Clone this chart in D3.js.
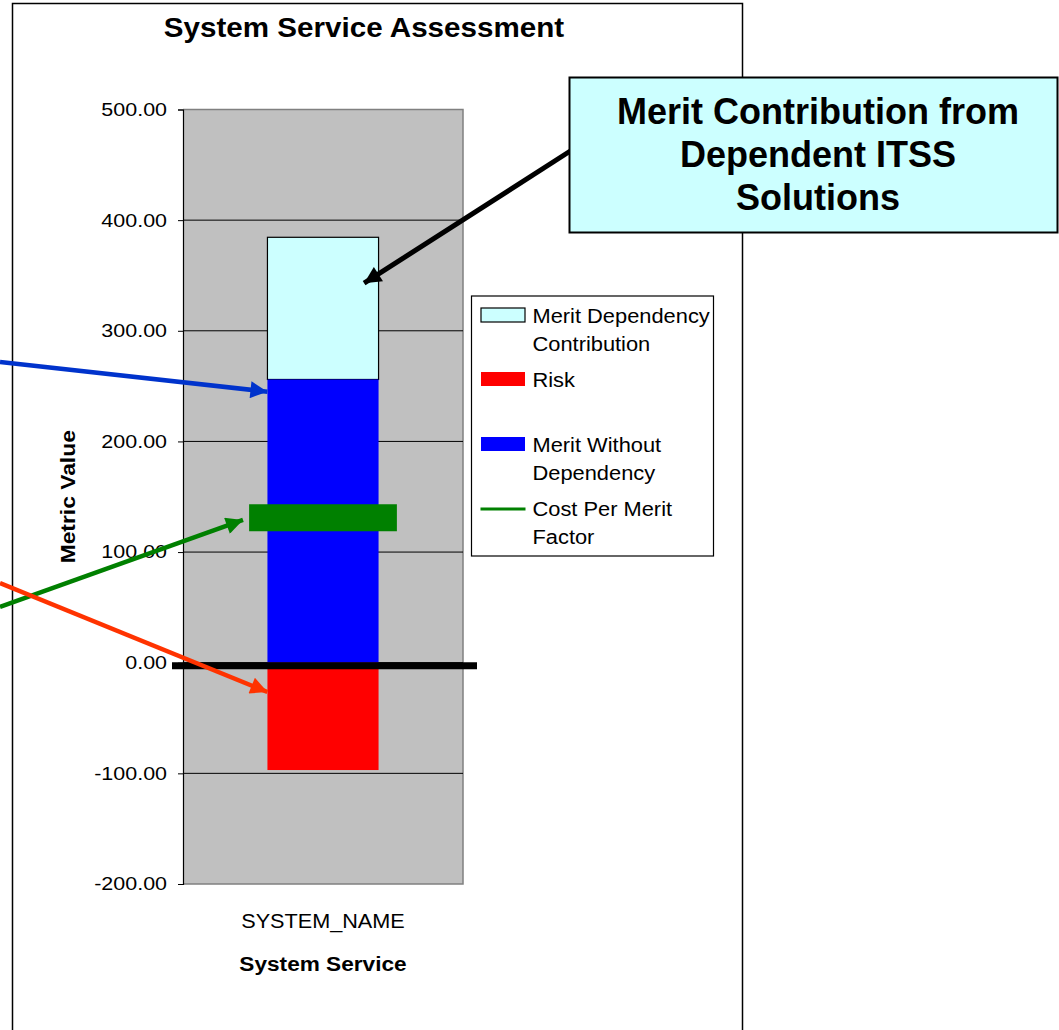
<!DOCTYPE html>
<html>
<head>
<meta charset="utf-8">
<script src="https://cdn.jsdelivr.net/npm/d3@7"></script>
<style>
  body { margin: 0; background: #fff; }
  svg { display: block; font-family: "Liberation Sans", Arial, sans-serif; }
</style>
</head>
<body>
<div id="chart"></div>
<script>
// Chart data
const categories = ["SYSTEM_NAME"];
const meritWithoutDependency = [256];
const meritDependencyContribution = [128.5];
const risk = [-97];
const costPerMeritFactor = [131];
const yTicks = [-200, -100, 0, 100, 200, 300, 400, 500];
const legendLabels = [
  ["Merit Dependency", "Contribution"],
  ["Risk"],
  ["Merit Without", "Dependency"],
  ["Cost Per Merit", "Factor"]
];
const calloutLines = ["Merit Contribution from", "Dependent ITSS", "Solutions"];

const W = 1059, H = 1030;
const plot = { left: 183, right: 463, top: 109.5, bottom: 884 };
const FONT = "Liberation Sans, Arial, sans-serif";

// the source chart's text is a bit wider than Arial at the same height
function stretch(sel, k) {
  sel.each(function () {
    const w = this.getComputedTextLength();
    d3.select(this).attr("textLength", w * k).attr("lengthAdjust", "spacingAndGlyphs");
  });
}

const svg = d3.select("#chart")
  .append("svg")
  .attr("width", W)
  .attr("height", H);

// Outer chart frame
svg.append("rect")
  .attr("x", 12.5).attr("y", 3.5)
  .attr("width", 730).attr("height", H + 10)
  .attr("fill", "#fff").attr("stroke", "#000").attr("stroke-width", 1.5);

svg.append("text")
  .attr("x", 364).attr("y", 36.5)
  .attr("text-anchor", "middle")
  .attr("font-size", 28).attr("font-weight", "bold")
  .text("System Service Assessment")
  .call(stretch, 1.057);

const x = d3.scaleBand()
  .domain(categories)
  .range([plot.left, plot.right])
  .paddingInner(0)
  .paddingOuter(0.76);

const y = d3.scaleLinear()
  .domain([-200, 500])
  .range([plot.bottom, plot.top]);

// Plot area background
svg.append("rect")
  .attr("x", plot.left).attr("y", plot.top)
  .attr("width", plot.right - plot.left).attr("height", plot.bottom - plot.top)
  .attr("fill", "#c0c0c0");
svg.append("path")
  .attr("d", `M${plot.left},${plot.top}H${plot.right}V${plot.bottom}H${plot.left}`)
  .attr("fill", "none").attr("stroke", "#808080").attr("stroke-width", 1.5);

// Gridlines
svg.append("g")
  .selectAll("line")
  .data(yTicks.filter(d => d !== -200 && d !== 500))
  .join("line")
  .attr("x1", plot.left).attr("x2", plot.right)
  .attr("y1", d => y(d)).attr("y2", d => y(d))
  .attr("stroke", "#000").attr("stroke-width", 1);

// Y axis (plain hyphen for negatives, as in the source)
const yAxis = svg.append("g")
  .attr("transform", `translate(${plot.left},0)`)
  .call(d3.axisLeft(y).tickValues(yTicks).tickFormat(d => d.toFixed(2)).tickSize(5).tickPadding(11));
yAxis.select(".domain").attr("stroke", "#000").attr("stroke-width", 1.2);
yAxis.selectAll("line").attr("stroke", "#000");
yAxis.selectAll("text")
  .attr("font-size", 18.5).attr("fill", "#000").attr("font-family", FONT)
  .call(stretch, 1.16);

svg.append("text")
  .attr("transform", `translate(75,${y(150)}) rotate(-90)`)
  .attr("text-anchor", "middle")
  .attr("font-size", 19.5).attr("font-weight", "bold")
  .text("Metric Value")
  .call(stretch, 1.17);

// X axis labels
svg.append("g")
  .selectAll("text")
  .data(categories)
  .join("text")
  .attr("x", d => x(d) + x.bandwidth() / 2)
  .attr("y", plot.bottom + 44)
  .attr("text-anchor", "middle")
  .attr("font-size", 19.5)
  .text(d => d)
  .call(stretch, 1.11);

svg.append("text")
  .attr("x", (plot.left + plot.right) / 2)
  .attr("y", plot.bottom + 87)
  .attr("text-anchor", "middle")
  .attr("font-size", 19.5).attr("font-weight", "bold")
  .text("System Service")
  .call(stretch, 1.16);

// Stacked bars
const rows = categories.map((c, i) => ({
  cat: c,
  merit: meritWithoutDependency[i],
  dep: meritDependencyContribution[i],
  risk: risk[i],
  cost: costPerMeritFactor[i]
}));

const bars = svg.append("g");
bars.selectAll(".dep")
  .data(rows).join("rect")
  .attr("x", d => x(d.cat))
  .attr("width", x.bandwidth())
  .attr("y", d => y(d.merit + d.dep))
  .attr("height", d => y(d.merit) - y(d.merit + d.dep))
  .attr("fill", "#ccffff").attr("stroke", "#000").attr("stroke-width", 1.2);
bars.selectAll(".merit")
  .data(rows).join("rect")
  .attr("x", d => x(d.cat))
  .attr("width", x.bandwidth())
  .attr("y", d => y(d.merit))
  .attr("height", d => y(0) - y(d.merit))
  .attr("fill", "#0000ff");
bars.selectAll(".risk")
  .data(rows).join("rect")
  .attr("x", d => x(d.cat))
  .attr("width", x.bandwidth())
  .attr("y", y(0))
  .attr("height", d => y(d.risk) - y(0))
  .attr("fill", "#ff0000");

// Cost per merit marker (thick green dash)
bars.selectAll(".cost")
  .data(rows).join("line")
  .attr("x1", d => x(d.cat) - x.bandwidth() * 0.165)
  .attr("x2", d => x(d.cat) + x.bandwidth() * 1.165)
  .attr("y1", d => y(d.cost)).attr("y2", d => y(d.cost))
  .attr("stroke", "#008000").attr("stroke-width", 27);

// Heavy zero line
svg.append("line")
  .attr("x1", plot.left - 11).attr("x2", plot.right + 14)
  .attr("y1", y(0) + 3).attr("y2", y(0) + 3)
  .attr("stroke", "#000").attr("stroke-width", 7);

// Legend
const legend = svg.append("g").attr("transform", "translate(471.5,296)");
legend.append("rect")
  .attr("width", 242).attr("height", 260)
  .attr("fill", "#fff").attr("stroke", "#000").attr("stroke-width", 1.2);
const legendRowY = [27, 91, 156, 220];
const legendFill = ["#ccffff", "#ff0000", "#0000ff", null];
legendLabels.forEach((lines, i) => {
  const gy = legendRowY[i];
  if (legendFill[i]) {
    legend.append("rect")
      .attr("x", 9.5).attr("y", gy - 15)
      .attr("width", 44).attr("height", 14)
      .attr("fill", legendFill[i])
      .attr("stroke", i === 0 ? "#000" : "none").attr("stroke-width", 1.2);
  } else {
    legend.append("line")
      .attr("x1", 9).attr("x2", 54)
      .attr("y1", gy - 7).attr("y2", gy - 7)
      .attr("stroke", "#008000").attr("stroke-width", 3);
  }
  lines.forEach((t, j) => {
    legend.append("text")
      .attr("x", 61).attr("y", gy + j * 28)
      .attr("font-size", 19.5)
      .text(t)
      .call(stretch, 1.12);
  });
});

// Arrow annotations
const defs = svg.append("defs");
function marker(id, color) {
  defs.append("marker")
    .attr("id", id)
    .attr("viewBox", "0 0 10 10")
    .attr("refX", 10).attr("refY", 5)
    .attr("markerUnits", "userSpaceOnUse")
    .attr("markerWidth", 20).attr("markerHeight", 17)
    .attr("orient", "auto")
    .append("path")
    .attr("d", "M0,0L10,5L0,10Z")
    .attr("fill", color);
}
marker("ah-black", "#000");
marker("ah-blue", "#0033cc");
marker("ah-green", "#008000");
marker("ah-red", "#ff3300");

const c0 = categories[0];
const arrows = [
  { from: [575, 148], to: [x(c0) + x.bandwidth() * 0.87, y(343)], color: "#000", w: 5, m: "ah-black" },
  { from: [0, 362], to: [x(c0), y(245)], color: "#0033cc", w: 4.5, m: "ah-blue" },
  { from: [0, 607], to: [x(c0) - x.bandwidth() * 0.22, y(129)], color: "#008000", w: 4.5, m: "ah-green" },
  { from: [0, 583], to: [x(c0), y(-26.5)], color: "#ff3300", w: 4.5, m: "ah-red" }
];
svg.append("g")
  .selectAll("line")
  .data(arrows)
  .join("line")
  .attr("x1", d => d.from[0]).attr("y1", d => d.from[1])
  .attr("x2", d => d.to[0]).attr("y2", d => d.to[1])
  .attr("stroke", d => d.color).attr("stroke-width", d => d.w)
  .attr("marker-end", d => `url(#${d.m})`);

// Callout box
const callout = svg.append("g");
callout.append("rect")
  .attr("x", 569.5).attr("y", 77.5)
  .attr("width", 488).attr("height", 155)
  .attr("fill", "#ccffff").attr("stroke", "#000").attr("stroke-width", 2);
calloutLines.forEach((t, i) => {
  callout.append("text")
    .attr("x", 818).attr("y", 124 + i * 43)
    .attr("text-anchor", "middle")
    .attr("font-size", 36).attr("font-weight", "bold")
    .text(t);
});
</script>
</body>
</html>
